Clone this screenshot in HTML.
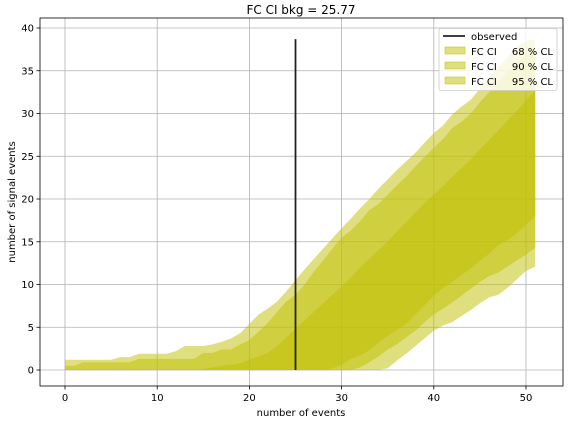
<!DOCTYPE html>
<html><head><meta charset="utf-8"><style>
body{margin:0;background:#fff;font-family:"Liberation Sans","DejaVu Sans",sans-serif}
svg text{font-family:"DejaVu Sans","Liberation Sans",sans-serif}
</style></head><body>
<svg id="c" width="568" height="424" xmlns="http://www.w3.org/2000/svg"></svg>
<script>
const ns=[];for(let i=0;i<=51;i++)ns.push(i);
const u95=[1.2,1.2,1.2,1.2,1.2,1.2,1.5,1.5,1.9,1.9,1.9,1.9,2.2,2.8,2.8,2.8,3.0,3.3,3.7,4.3,5.4,6.5,7.2,8.0,9.2,10.5,11.8,13.0,14.2,15.4,16.6,17.7,18.9,20.0,21.2,22.3,23.4,24.4,25.4,26.6,27.7,28.6,29.9,30.8,31.6,32.9,34.2,35.4,36.6,37.8,38.5,38.7];
const u90=[0.5,0.5,0.9,0.9,0.9,0.9,0.9,0.9,1.3,1.3,1.3,1.3,1.3,1.3,1.3,2.0,2.0,2.4,2.4,3.0,3.5,4.5,5.5,6.8,8.0,8.8,10.0,11.5,12.8,14.2,15.5,16.3,17.4,18.7,19.4,20.5,21.6,22.6,23.8,24.9,26.0,27.0,28.3,29.0,30.0,31.3,32.5,33.6,34.8,36.0,37.0,37.5];
const u68=[0,0,0,0,0,0,0,0,0,0,0,0,0,0,0,0.1,0.3,0.5,0.6,0.8,1.2,1.6,2.0,2.8,3.8,4.8,5.8,6.8,7.8,8.8,9.8,10.8,12.0,13.0,14.0,15.0,16.2,17.3,18.4,19.5,20.5,21.5,22.6,23.6,24.6,25.8,26.9,28.0,29.2,30.3,31.5,32.7];
const l68=[0,0,0,0,0,0,0,0,0,0,0,0,0,0,0,0,0,0,0,0,0,0,0,0,0,0,0,0,0,0.2,0.6,1.3,1.7,2.3,3.2,4.0,4.7,5.4,6.5,7.6,8.7,9.6,10.3,11.1,11.9,12.8,13.6,14.6,15.2,16.0,17.0,18.0];
const l90=[0,0,0,0,0,0,0,0,0,0,0,0,0,0,0,0,0,0,0,0,0,0,0,0,0,0,0,0,0,0,0,0,0.3,0.9,1.6,2.4,3.0,3.8,4.6,5.6,6.5,7.2,7.9,8.7,9.5,10.3,11.0,11.4,12.1,12.8,13.5,14.3];
const l95=[0,0,0,0,0,0,0,0,0,0,0,0,0,0,0,0,0,0,0,0,0,0,0,0,0,0,0,0,0,0,0,0,0,0,0,0.2,1.1,1.9,2.8,3.7,4.6,5.2,5.6,6.3,7.0,7.8,8.5,8.8,9.6,10.6,11.6,12.1];
const observedN=25, observedTop=38.7;
const xTicks=[0,10,20,30,40,50];
const yTicks=[0,5,10,15,20,25,30,35,40];
const L=40,R=563,T=18,B=386;
const X=v=>65+v*(526-65)/50;
const Y=v=>370-v*(370-28)/40;
const svg=document.getElementById('c');
function mk(t,a,p){const e=document.createElementNS('http://www.w3.org/2000/svg',t);for(const k in a)e.setAttribute(k,a[k]);(p||svg).appendChild(e);return e;}
mk('text',{x:301,y:14,'font-size':12,'text-anchor':'middle',fill:'#000'}).textContent='FC CI bkg = 25.77';

// grid
xTicks.forEach(t=>{const l=mk('line',{x1:X(t),x2:X(t),y1:T,y2:B,stroke:'#b0b0b0','stroke-width':0.8});

mk('line',{x1:X(t),x2:X(t),y1:B,y2:B+3.5,stroke:'#000','stroke-width':0.8});
const tx=mk('text',{x:X(t),y:B+15,'font-size':10,'text-anchor':'middle'});tx.textContent=t;
});
yTicks.forEach(t=>{const l=mk('line',{x1:L,x2:R,y1:Y(t),y2:Y(t),stroke:'#b0b0b0','stroke-width':0.8});

mk('line',{x1:L-3.5,x2:L,y1:Y(t),y2:Y(t),stroke:'#000','stroke-width':0.8});
const tx=mk('text',{x:L-6,y:Y(t)+3.5,'font-size':10,'text-anchor':'end'});tx.textContent=t;
});
function band(up,lo,name){let d='';ns.forEach((n,i)=>{d+=(i?'L':'M')+X(n)+','+Y(up[i]);});
for(let i=ns.length-1;i>=0;i--)d+='L'+X(ns[i])+','+Y(lo[i]);d+='Z';
const p=mk('path',{d:d,fill:'#bfbf00','fill-opacity':0.5});
}
band(u95,l95,'band-95-cl');band(u90,l90,'band-90-cl');band(u68,l68,'band-68-cl');
const ob=mk('line',{x1:X(observedN),x2:X(observedN),y1:Y(0),y2:Y(observedTop),stroke:'#222','stroke-width':1.8});

const fr=mk('rect',{x:L,y:T,width:R-L,height:B-T,fill:'none',stroke:'#000','stroke-width':0.8});

const xl=mk('text',{x:301,y:416,'font-size':10,'text-anchor':'middle'});xl.textContent='number of events';

const yl=mk('text',{x:0,y:0,'font-size':10,'text-anchor':'middle',transform:'translate(15,202) rotate(-90)'});yl.textContent='number of signal events';

// legend
const g=mk('g',{});
mk('rect',{x:439,y:28.5,width:118,height:62,rx:2,fill:'#fff','fill-opacity':0.8,stroke:'#ccc','stroke-width':0.8},g);
mk('line',{x1:443,x2:465,y1:36,y2:36,stroke:'#222','stroke-width':1.8},g);
const t0=mk('text',{x:471,y:40,'font-size':10},g);t0.textContent='observed';

['68','90','95'].forEach((c,i)=>{const y=51+i*15;
const r=mk('rect',{x:445,y:y-4,width:20,height:7,fill:'#bfbf00','fill-opacity':0.5,stroke:'#bfbf00','stroke-opacity':0.5},g);

const a=mk('text',{x:471,y:y+4,'font-size':10},g);a.textContent='FC CI';

const b=mk('text',{x:553,y:y+4,'font-size':10,'text-anchor':'end'},g);b.textContent=c+' % CL';});
</script>
</body></html>
